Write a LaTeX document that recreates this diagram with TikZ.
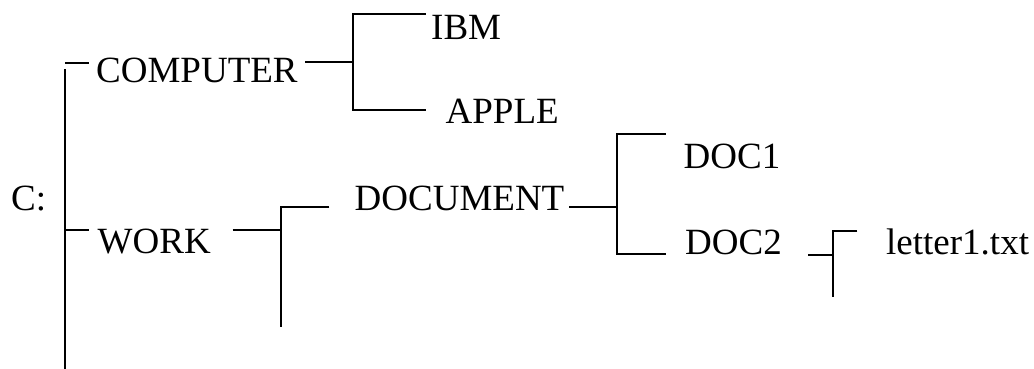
\documentclass[tikz,border=0pt]{standalone}
\usepackage{fontspec}
\setmainfont{Liberation Serif}
\begin{document}
\begin{tikzpicture}[x=1pt,y=-1pt,
  lbl/.style={inner sep=0pt,anchor=base west,font=\fontsize{37pt}{44pt}\selectfont},
  conn/.style={line width=2.2pt,line join=miter,line cap=butt}]
\useasboundingbox (0,0) rectangle (1034,369);
% text nodes
\node[lbl] (c)    at (11,210)   {C:};
\node[lbl] (comp) at (96,82.3)  {COMPUTER};
\node[lbl] (ibm)  at (431,39.3) {IBM};
\node[lbl] (apple) at (445.5,124) {APPLE};
\node[lbl] (work) at (97.5,253) {WORK};
\node[lbl] (docu) at (354.5,210) {DOCUMENT};
\node[lbl] (doc1) at (683.5,168) {DOC1};
\node[lbl] (doc2) at (685,254)  {DOC2};
\node[lbl] (let)  at (886,254)  {letter1.txt};
% junction coordinates
\coordinate (rootTickA) at (65,62.7);
\coordinate (rootTickB) at (89,62.7);
\coordinate (rootTop) at (65,69.3);
\coordinate (rootBot) at (65,369);
\coordinate (workTickA) at (65,230);
\coordinate (workTickB) at (89,230);
\coordinate (compOut) at (305,62.2);
\coordinate (compJ) at (352.7,62.2);
\coordinate (ibmJ) at (352.7,14);
\coordinate (ibmIn) at (425.7,14);
\coordinate (appleJ) at (352.7,110);
\coordinate (appleIn) at (425.7,110);
\coordinate (workOut) at (232.7,230);
\coordinate (workJ) at (280.7,230);
\coordinate (docuJ) at (280.7,207);
\coordinate (docuIn) at (329.3,207);
\coordinate (workEnd) at (280.7,326.7);
\coordinate (docuOut) at (569,206.7);
\coordinate (docuJ2) at (616.7,206.7);
\coordinate (doc1J) at (616.7,134.3);
\coordinate (doc1In) at (665.7,134.3);
\coordinate (doc2J) at (616.7,254.3);
\coordinate (doc2In) at (665.7,254.3);
\coordinate (doc2Out) at (808.3,255);
\coordinate (doc2Jb) at (833.3,255);
\coordinate (letJ) at (833.3,230.7);
\coordinate (letIn) at (857.3,230.7);
\coordinate (doc2End) at (833.3,296.7);
% connectors
\draw[conn] (rootTickA) -- (rootTickB);
\draw[conn] (rootTop) -- (rootBot);
\draw[conn] (workTickA) -- (workTickB);
\draw[conn] (compOut) -- (compJ);
\draw[conn] (ibmIn) -- (ibmJ) -- (appleJ) -- (appleIn);
\draw[conn] (workOut) -- (workJ);
\draw[conn] (docuIn) -- (docuJ) -- (workEnd);
\draw[conn] (docuOut) -- (docuJ2);
\draw[conn] (doc1In) -- (doc1J) -- (doc2J) -- (doc2In);
\draw[conn] (doc2Out) -- (doc2Jb);
\draw[conn] (letIn) -- (letJ) -- (doc2End);
\end{tikzpicture}
\end{document}
